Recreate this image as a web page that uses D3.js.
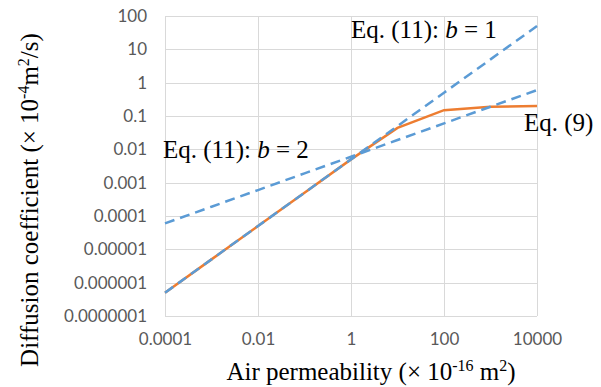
<!DOCTYPE html>
<html>
<head>
<meta charset="utf-8">
<script src="https://cdn.jsdelivr.net/npm/d3@7"></script>
<style>
  body { margin: 0; background: #fff; }
</style>
</head>
<body>
<div id="chart"></div>
<script>
// air permeability (x 1e-16 m2)
var permeability = [0.0001, 0.001, 0.01, 0.1, 1, 10, 100, 1000, 10000];
// Eq. (9)
var eq9 = [5e-7, 5e-6, 5e-5, 5e-4, 0.005, 0.044, 0.15, 0.19, 0.2];
// Eq. (11), b = 2 (steep dashed)
var eq11b2 = [5e-7, 5e-6, 5e-5, 5e-4, 0.005, 0.05, 0.5, 5, 50];
// Eq. (11), b = 1 (shallow dashed)
var eq11b1 = [6e-5, 0.00019, 0.0006, 0.0019, 0.006, 0.019, 0.06, 0.19, 0.6];

var xTicks = [0.0001, 0.01, 1, 100, 10000];
var yTicks = [0.0000001, 0.000001, 0.00001, 0.0001, 0.001, 0.01, 0.1, 1, 10, 100];
var yLabels = ["0.0000001", "0.000001", "0.00001", "0.0001", "0.001", "0.01", "0.1", "1", "10", "100"];
var xLabels = ["0.0001", "0.01", "1", "100", "10000"];

var width = 601, height = 387;
var mLeft = 165, mRight = 537, mTop = 16, mBottom = 316;
var serif = "'Liberation Serif', 'Times New Roman', serif";
var sans = "Lato, 'Open Sans', sans-serif";

var svg = d3.select("#chart").append("svg")
    .attr("width", width)
    .attr("height", height);

var x = d3.scaleLog().domain([0.0001, 10000]).range([mLeft, mRight]);
var y = d3.scaleLog().domain([0.0000001, 100]).range([mBottom, mTop]);

// grid
svg.append("g")
    .selectAll("line")
    .data(yTicks)
  .enter().append("line")
    .attr("x1", mLeft).attr("x2", mRight)
    .attr("y1", function(d) { return Math.round(y(d)) + 0.5; })
    .attr("y2", function(d) { return Math.round(y(d)) + 0.5; })
    .attr("stroke", "#d9d9d9").attr("stroke-width", 1);

svg.append("g")
    .selectAll("line")
    .data(xTicks)
  .enter().append("line")
    .attr("y1", mTop).attr("y2", mBottom)
    .attr("x1", function(d) { return Math.round(x(d)) + 0.5; })
    .attr("x2", function(d) { return Math.round(x(d)) + 0.5; })
    .attr("stroke", "#d9d9d9").attr("stroke-width", 1);

// axes (labels only)
var yAxis = d3.axisLeft(y).tickValues(yTicks).tickSize(0).tickPadding(18)
    .tickFormat(function(d, i) { return yLabels[i]; });
var gy = svg.append("g").attr("transform", "translate(" + mLeft + ",0)").call(yAxis);
gy.select(".domain").remove();
gy.attr("font-family", sans).attr("font-size", 17);
gy.selectAll("text").attr("fill", "#595959");

var xAxis = d3.axisBottom(x).tickValues(xTicks).tickSize(0).tickPadding(17)
    .tickFormat(function(d, i) { return xLabels[i]; });
var gx = svg.append("g").attr("transform", "translate(0," + mBottom + ")").call(xAxis);
gx.select(".domain").remove();
gx.attr("font-family", sans).attr("font-size", 17);
gx.selectAll("text").attr("fill", "#595959");

// lines
var line = d3.line()
    .x(function(d) { return x(d[0]); })
    .y(function(d) { return y(d[1]); });

function pairs(vals) { return permeability.map(function(p, i) { return [p, vals[i]]; }); }

svg.append("path")
    .datum(pairs(eq9))
    .attr("d", line)
    .attr("fill", "none")
    .attr("stroke", "#ED7D31")
    .attr("stroke-width", 2.5);

[eq11b2, eq11b1].forEach(function(vals) {
  svg.append("path")
      .datum(pairs(vals))
      .attr("d", line)
      .attr("fill", "none")
      .attr("stroke", "#5B9BD5")
      .attr("stroke-width", 2.5)
      .attr("stroke-dasharray", "10,6");
});

// annotations
function eqLabel(tx, ty, txt, bval) {
  var t = svg.append("text").attr("font-family", serif)
      .attr("x", tx).attr("y", ty).attr("font-size", 25);
  t.append("tspan").text(txt);
  if (bval != null) {
    t.append("tspan").attr("font-style", "italic").text("b");
    t.append("tspan").text(" = " + bval);
  }
}
eqLabel(351, 38, "Eq. (11): ", 1);
eqLabel(163, 158, "Eq. (11): ", 2);
eqLabel(524, 131, "Eq. (9)", null);

// axis titles
var xt = svg.append("text").attr("font-family", serif)
    .attr("x", 371).attr("y", 380).attr("text-anchor", "middle").attr("font-size", 25);
xt.append("tspan").text("Air permeability (\u00d7 10");
xt.append("tspan").attr("font-size", 16).attr("dy", -9).text("-16");
xt.append("tspan").attr("dy", 9).text(" m");
xt.append("tspan").attr("font-size", 16).attr("dy", -9).text("2");
xt.append("tspan").attr("dy", 9).text(")");

var yt = svg.append("text").attr("font-family", serif)
    .attr("transform", "translate(38,200)rotate(-90)")
    .attr("text-anchor", "middle").attr("font-size", 25);
yt.append("tspan").text("Diffusion coefficient (\u00d7 10");
yt.append("tspan").attr("font-size", 16).attr("dy", -9).text("-4");
yt.append("tspan").attr("dy", 9).text("m");
yt.append("tspan").attr("font-size", 16).attr("dy", -9).text("2");
yt.append("tspan").attr("dy", 9).text("/s)");
</script>
</body>
</html>
